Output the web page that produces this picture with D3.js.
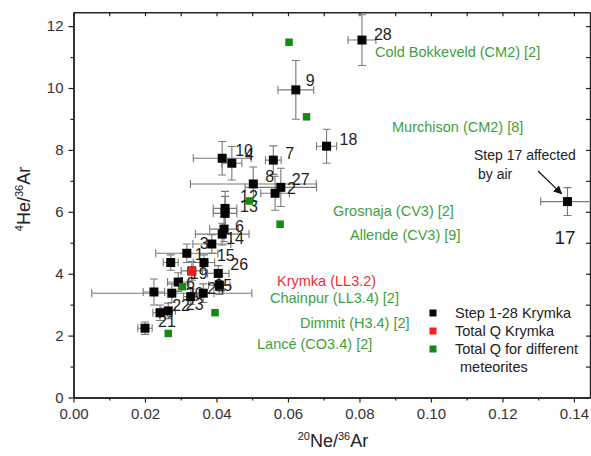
<!DOCTYPE html>
<html>
<head>
<meta charset="utf-8">
<script src="https://cdn.jsdelivr.net/npm/d3@7"></script>
<style>
  body { margin: 0; background: #fff; }
  svg { display: block; font-family: 'Liberation Sans', Arial, sans-serif; }
</style>
</head>
<body>
<svg id="chart" width="591" height="456"></svg>
<script>
// step release data, Krymka (label as printed next to the point, '' = no label)
const stepLabels = ['28', '9', '18', '17', '10', '4', '7', '8', '27', '2', '12', '13', '6', '14', '3', '1', '15', '',
  '26', '19', '25', '24', '16', '20', '', '23', '22', '21', ''];
const stepNe = [0.0807, 0.0622, 0.0708, 0.1382, 0.0416, 0.0443, 0.0559, 0.0503, 0.0580, 0.0564, 0.0424, 0.0424, 0.0421, 0.0416,
  0.0387, 0.0317, 0.0365, 0.0272, 0.0405, 0.0331, 0.0408, 0.0363, 0.0293, 0.0275, 0.0225, 0.0328, 0.0265, 0.0242, 0.0200];
const stepHe = [11.55, 9.94, 8.12, 6.33, 7.73, 7.57, 7.67, 6.90, 6.79, 6.60, 6.11, 5.95, 5.44, 5.28,
  4.96, 4.66, 4.36, 4.36, 4.01, 4.09, 3.63, 3.37, 3.73, 3.37, 3.41, 3.26, 2.80, 2.74, 2.24];
const stepNeErr = [0.0039, 0.0050, 0.0028, 0.0075, 0.0081, 0.0028, 0.0022, 0.0176, 0.0100, 0.0040, 0.0033, 0.0033, 0.0040, 0.0075,
  0.0053, 0.0087, 0.0030, 0.0021, 0.0030, 0.0030, 0.0030, 0.0030, 0.0030, 0.0224, 0.0030, 0.0020, 0.0020, 0.0020, 0.0020];
const stepHeErr = [0.82, 0.95, 0.55, 0.45, 0.54, 0.54, 0.46, 0.55, 0.62, 0.55, 0.55, 0.55, 0.40, 0.35,
  0.30, 0.30, 0.25, 0.25, 0.25, 0.30, 0.30, 0.30, 0.30, 0.30, 0.42, 0.25, 0.25, 0.25, 0.20];

// total Q, Krymka
const krymkaNe = [0.0331];
const krymkaHe = [4.09];

// total Q, other meteorites
const meteoriteNames = ['Cold Bokkeveld (CM2) [2]', 'Murchison (CM2) [8]', 'Grosnaja (CV3) [2]', 'Allende (CV3) [9]',
  'Chainpur (LL3.4) [2]', 'Dimmit (H3.4) [2]', 'Lancé (CO3.4) [2]'];
const meteoriteNe = [0.0603, 0.0652, 0.0492, 0.0578, 0.0305, 0.0396, 0.0265];
const meteoriteHe = [11.48, 9.07, 6.35, 5.60, 3.58, 2.74, 2.07];

const xTicks = [0, 0.02, 0.04, 0.06, 0.08, 0.10, 0.12, 0.14];
const xMinor = [0.01, 0.03, 0.05, 0.07, 0.09, 0.11, 0.13];
const yTicks = [0, 2, 4, 6, 8, 10, 12];
const yMinor = [1, 3, 5, 7, 9, 11];

const legendLabels = ['Step 1-28 Krymka', 'Total Q Krymka', 'Total Q for different'];

const svg = d3.select('#chart');
const plotLeft = 73.5, plotRight = 590, plotTop = 12.2, plotBottom = 397.5;

const x = d3.scaleLinear().domain([0, 0.1445]).range([plotLeft, plotRight]);
const y = d3.scaleLinear().domain([0, 12.45]).range([plotBottom, plotTop]);

const black = '#050505', red = '#ff1a1a', green = '#138a13';
const greenText = '#3d9f3d', redText = '#e8303a';

// axes: outward on bottom/left, mirrored inward on top/right
const axisStyle = (g) => {
  g.select('.domain').attr('stroke', '#222').attr('stroke-width', 1.4);
  g.selectAll('.tick line').attr('stroke', '#222').attr('stroke-width', 1.2);
  g.selectAll('.tick text').attr('fill', '#333').style('font-size', '15px')
    .style('font-family', "'Liberation Sans', Arial, sans-serif");
};

svg.append('g').attr('transform', 'translate(0,' + plotBottom + ')')
  .call(d3.axisBottom(x).tickValues(xTicks).tickFormat(d3.format('.2f')).tickSizeInner(5).tickSizeOuter(0).tickPadding(6))
  .call(axisStyle);
svg.append('g').attr('transform', 'translate(0,' + plotBottom + ')')
  .call(d3.axisBottom(x).tickValues(xMinor).tickFormat('').tickSizeInner(3).tickSizeOuter(0))
  .call(axisStyle);
svg.append('g').attr('transform', 'translate(' + plotLeft + ',0)')
  .call(d3.axisLeft(y).tickValues(yTicks).tickSizeInner(5).tickSizeOuter(0).tickPadding(5))
  .call(axisStyle);
svg.append('g').attr('transform', 'translate(' + plotLeft + ',0)')
  .call(d3.axisLeft(y).tickValues(yMinor).tickFormat('').tickSizeInner(3).tickSizeOuter(0))
  .call(axisStyle);
// mirror
svg.append('g').attr('transform', 'translate(0,' + plotTop + ')')
  .call(d3.axisBottom(x).tickValues(xTicks.concat(xMinor)).tickFormat('').tickSizeInner(4).tickSizeOuter(0))
  .call(axisStyle);
svg.append('g').attr('transform', 'translate(' + plotRight + ',0)')
  .call(d3.axisLeft(y).tickValues(yTicks.concat(yMinor)).tickFormat('').tickSizeInner(4).tickSizeOuter(0))
  .call(axisStyle);

// axis titles
const xt = svg.append('text').attr('x', 333).attr('y', 447).attr('text-anchor', 'middle')
  .attr('fill', '#222').style('font-size', '18px');
xt.append('tspan').attr('dy', -7).style('font-size', '11px').text('20');
xt.append('tspan').attr('dy', 7).text('Ne/');
xt.append('tspan').attr('dy', -7).style('font-size', '11px').text('36');
xt.append('tspan').attr('dy', 7).text('Ar');

const yt = svg.append('text').attr('transform', 'translate(30,199) rotate(-90)').attr('text-anchor', 'middle')
  .attr('fill', '#222').style('font-size', '18px');
yt.append('tspan').attr('dy', -7).style('font-size', '11px').text('4');
yt.append('tspan').attr('dy', 7).text('He/');
yt.append('tspan').attr('dy', -7).style('font-size', '11px').text('36');
yt.append('tspan').attr('dy', 7).text('Ar');

const steps = stepLabels.map((l, i) => ({ label: l, ne: stepNe[i], he: stepHe[i], ex: stepNeErr[i], ey: stepHeErr[i] }));

// error bars
const cap = 4;
const eb = svg.append('g').attr('stroke', '#7a7a7a').attr('stroke-width', 1.1).attr('fill', 'none');
steps.forEach((d) => {
  const cx = x(d.ne), cy = y(d.he);
  const x0 = x(d.ne - d.ex), x1 = x(d.ne + d.ex);
  const y0 = y(d.he - d.ey), y1 = y(d.he + d.ey);
  eb.append('path').attr('d',
    'M' + x0 + ',' + cy + 'H' + x1 +
    'M' + x0 + ',' + (cy - cap) + 'V' + (cy + cap) +
    'M' + x1 + ',' + (cy - cap) + 'V' + (cy + cap) +
    'M' + cx + ',' + y0 + 'V' + y1 +
    'M' + (cx - cap) + ',' + y0 + 'H' + (cx + cap) +
    'M' + (cx - cap) + ',' + y1 + 'H' + (cx + cap));
});

// label placement next to each step point (text baseline offset in px)
const labelOffset = {
  '28': [12, -0.5], '9': [10, -3.5], '18': [13, -1.5], '17': [-13, 42], '10': [13, -2], '4': [13, -3],
  '7': [12, -1], '8': [12, -2], '27': [11, -2], '2': [12, 0.5], '12': [15, -6], '13': [15, -1],
  '6': [11, 3], '14': [4, 10], '3': [-12, 5], '1': [8, 7], '15': [13, -2], '26': [12, -3],
  '19': [-2, 8], '25': [-5, 5.5], '24': [4, 1], '16': [-1, 6.5], '20': [14, 5.5], '23': [-5, 13],
  '22': [4, 0], '21': [-2, 14]
};

svg.append('g').selectAll('text')
  .data(steps.filter((d) => d.label !== ''))
  .enter().append('text')
  .attr('x', (d) => x(d.ne) + labelOffset[d.label][0])
  .attr('y', (d) => y(d.he) + labelOffset[d.label][1])
  .attr('fill', '#1e1e1e')
  .style('font-size', (d) => d.label === '17' ? '19px' : '16px')
  .text((d) => d.label);

// step squares
const bs = 9;
svg.append('g').selectAll('rect')
  .data(steps)
  .enter().append('rect')
  .attr('x', (d) => x(d.ne) - bs / 2)
  .attr('y', (d) => y(d.he) - bs / 2)
  .attr('width', bs).attr('height', bs)
  .attr('fill', black);

// total Q Krymka
const rs = 8;
svg.append('g').selectAll('rect')
  .data(krymkaNe.map((v, i) => ({ ne: v, he: krymkaHe[i] })))
  .enter().append('rect')
  .attr('x', (d) => x(d.ne) - rs / 2)
  .attr('y', (d) => y(d.he) - rs / 2)
  .attr('width', rs).attr('height', rs)
  .attr('fill', red);

// total Q other meteorites
const gs = 7.5;
svg.append('g').selectAll('rect')
  .data(meteoriteNames.map((n, i) => ({ name: n, ne: meteoriteNe[i], he: meteoriteHe[i] })))
  .enter().append('rect')
  .attr('x', (d) => x(d.ne) - gs / 2)
  .attr('y', (d) => y(d.he) - gs / 2)
  .attr('width', gs).attr('height', gs)
  .attr('fill', green);

// meteorite names written in the plot
const namePos = [[375, 57], [392, 132], [333, 216], [350, 240], [270, 303], [300, 328], [257, 349]];
svg.append('g').selectAll('text')
  .data(meteoriteNames)
  .enter().append('text')
  .attr('x', (d, i) => namePos[i][0])
  .attr('y', (d, i) => namePos[i][1])
  .attr('fill', greenText)
  .style('font-size', '14.5px')
  .text((d) => d);

svg.append('text').attr('x', 277).attr('y', 286).attr('fill', redText).style('font-size', '14.5px')
  .text('Krymka (LL3.2)');

// air note + arrow
svg.append('defs').append('marker')
  .attr('id', 'arrow').attr('viewBox', '0 0 10 10').attr('refX', 9).attr('refY', 5)
  .attr('markerWidth', 7).attr('markerHeight', 7).attr('orient', 'auto')
  .append('path').attr('d', 'M0,0L10,5L0,10z').attr('fill', '#111');
svg.append('text').attr('x', 474).attr('y', 160).attr('fill', '#222').style('font-size', '14px').text('Step 17 affected');
svg.append('text').attr('x', 478).attr('y', 179).attr('fill', '#222').style('font-size', '14px').text('by air');
svg.append('line')
  .attr('x1', 538).attr('y1', 171).attr('x2', x(stepNe[3]) - 6).attr('y2', y(stepHe[3]) - 8)
  .attr('stroke', '#111').attr('stroke-width', 1.2).attr('marker-end', 'url(#arrow)');

// legend
const legendColors = [black, red, green];
const lg = svg.append('g').attr('transform', 'translate(433,313)');
legendLabels.forEach((l, i) => {
  lg.append('rect').attr('x', -3.5).attr('y', i * 18 - 3.5).attr('width', 7).attr('height', 7).attr('fill', legendColors[i]);
  lg.append('text').attr('x', 22).attr('y', i * 18 + 5).attr('fill', '#222').style('font-size', '14.5px').text(l);
});
lg.append('text').attr('x', 27).attr('y', 3 * 18 + 5).attr('fill', '#222').style('font-size', '14.5px').text('meteorites');
</script>
</body>
</html>
